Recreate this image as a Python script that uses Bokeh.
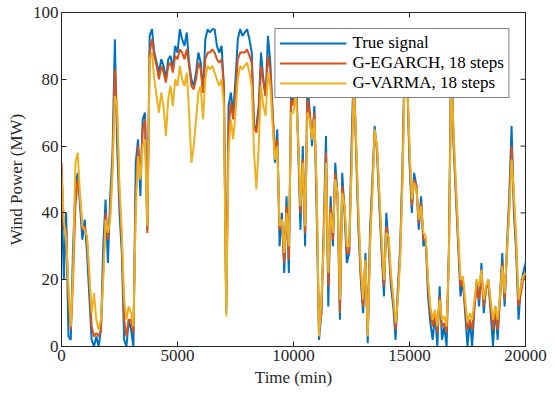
from bokeh.plotting import figure
from bokeh.models import Range1d, FixedTicker, Legend, LegendItem
from bokeh.embed import file_html
from bokeh.resources import INLINE

# time axis (min), one sample every 100 min
time_min = list(range(0, 20001, 100))

true_signal = [
    48, 20, 40, 3, 2, 30, 48, 52, 42, 32, 38, 28, 15, 2, 0, 3, 0, 5, 30, 44,
    25, 45, 58, 92, 60, 40, 28, 2, 0, 8, 5, 0, 55, 62, 45, 68, 70, 35, 93, 95,
    88, 85, 82, 86, 84, 80, 86, 87, 83, 90, 88, 95, 92, 90, 94, 85, 80, 78, 82, 88,
    85, 76, 92, 95, 94, 95, 95, 90, 88, 90, 78, 10, 72, 76, 70, 80, 92, 95, 93, 94,
    95, 92, 88, 65, 66, 72, 88, 80, 75, 93, 85, 70, 55, 65, 30, 40, 22, 45, 22, 80,
    72, 85, 60, 35, 60, 30, 80, 70, 60, 72, 40, 2, 10, 35, 63, 12, 45, 30, 55, 45,
    8, 52, 40, 25, 28, 60, 85, 58, 35, 20, 10, 28, 1, 35, 50, 66, 58, 42, 28, 15,
    40, 30, 18, 12, 2, 18, 30, 55, 90, 80, 55, 40, 52, 48, 35, 45, 30, 32, 15, 7,
    2, 10, 0, 18, 2, 6, 0, 30, 92, 60, 45, 30, 15, 20, 10, 0, 8, 0, 12, 20,
    12, 25, 10, 18, 20, 10, 0, 12, 2, 15, 28, 12, 30, 45, 66, 40, 28, 8, 18, 22,
    25,
]

egarch_18 = [
    55, 35, 35, 15, 5, 20, 42, 50, 45, 35, 36, 32, 20, 6, 3, 4, 3, 5, 22, 40,
    32, 40, 55, 83, 68, 45, 32, 8, 3, 8, 8, 4, 45, 60, 50, 65, 68, 34, 88, 92,
    87, 84, 80, 84, 82, 79, 84, 85, 82, 87, 86, 89, 88, 86, 89, 84, 78, 77, 80, 85,
    83, 76, 86, 88, 88, 89, 88, 86, 85, 86, 78, 12, 65, 73, 68, 76, 86, 88, 88, 88,
    89, 87, 85, 66, 64, 70, 84, 79, 75, 87, 83, 70, 58, 62, 35, 38, 25, 42, 26, 74,
    72, 80, 62, 40, 56, 34, 74, 70, 62, 70, 45, 5, 10, 32, 58, 18, 42, 32, 52, 45,
    10, 48, 42, 28, 28, 55, 80, 60, 38, 22, 12, 26, 4, 32, 48, 64, 60, 45, 30, 18,
    36, 32, 20, 14, 5, 15, 28, 52, 86, 80, 58, 42, 50, 48, 37, 43, 32, 32, 18, 10,
    6, 10, 4, 15, 6, 7, 4, 28, 86, 62, 47, 32, 18, 20, 12, 5, 8, 5, 12, 18,
    14, 22, 12, 17, 19, 12, 5, 11, 5, 14, 25, 14, 28, 42, 60, 44, 30, 12, 16, 20,
    22,
]

varma_18 = [
    52, 38, 32, 18, 6, 22, 55, 58, 45, 36, 35, 33, 22, 10, 16, 8, 5, 8, 20, 38,
    34, 38, 52, 75, 72, 48, 34, 14, 8, 12, 10, 6, 40, 57, 50, 60, 62, 36, 86, 88,
    80, 75, 70, 76, 72, 63, 74, 78, 72, 80, 78, 84, 80, 78, 82, 70, 55, 60, 68, 76,
    78, 68, 80, 84, 83, 84, 82, 80, 78, 80, 72, 9, 58, 68, 62, 70, 80, 84, 83, 84,
    85, 82, 78, 58, 47, 60, 78, 72, 69, 82, 78, 66, 56, 60, 36, 38, 28, 40, 30, 70,
    70, 76, 62, 42, 55, 36, 70, 68, 62, 68, 48, 3, 14, 30, 55, 22, 40, 34, 50, 46,
    14, 46, 42, 30, 30, 52, 78, 62, 40, 24, 14, 26, 3, 30, 46, 65, 60, 46, 32, 20,
    34, 33, 22, 15, 7, 14, 27, 50, 84, 80, 60, 44, 49, 47, 38, 42, 34, 33, 20, 12,
    8, 11, 6, 14, 8, 9, 6, 26, 82, 64, 49, 34, 20, 21, 14, 7, 10, 8, 14, 20,
    18, 23, 14, 18, 20, 14, 8, 12, 8, 15, 24, 16, 28, 40, 56, 46, 32, 14, 18, 21,
    22,
]

x_ticks = [0, 5000, 10000, 15000, 20000]
y_ticks = [0, 20, 40, 60, 80, 100]
x_lim = (0, 20000)
y_lim = (0, 100)
series_names = ["True signal", "G-EGARCH, 18 steps", "G-VARMA, 18 steps"]
series_colors = ["#0072BD", "#D95319", "#EDB120"]

FONT = "Liberation Serif"
FS = "17px"
AX_COLOR = "#262626"

p = figure(
    frame_width=464, frame_height=334,
    x_range=Range1d(*x_lim), y_range=Range1d(*y_lim),
    output_backend="svg", toolbar_location=None,
    min_border_left=61, min_border_right=30, min_border_top=12, min_border_bottom=48,
)
p.grid.visible = False
p.outline_line_color = AX_COLOR
p.outline_line_width = 1
p.background_fill_color = "white"
p.border_fill_color = "white"

for ax, ticks in ((p.xaxis[0], x_ticks), (p.yaxis[0], y_ticks)):
    ax.ticker = FixedTicker(ticks=ticks)
    ax.major_tick_in = 5
    ax.major_tick_out = 0
    ax.minor_tick_line_color = None
    ax.axis_line_color = AX_COLOR
    ax.major_tick_line_color = AX_COLOR
    ax.major_label_text_font = FONT
    ax.major_label_text_font_size = FS
    ax.major_label_text_color = AX_COLOR
    ax.major_label_standoff = 3
    ax.axis_label_text_font = FONT
    ax.axis_label_text_font_size = FS
    ax.axis_label_text_font_style = "normal"
    ax.axis_label_text_color = AX_COLOR
    ax.axis_label_standoff = 4
p.xaxis.axis_label = "Time (min)"
p.yaxis.axis_label = "Wind Power (MW)"

# inward ticks on the top and right edges of the box (5 px long)
x_span = x_lim[1] - x_lim[0]
y_span = y_lim[1] - y_lim[0]
tick_dy = 5 * y_span / 334
tick_dx = 5 * x_span / 464
p.segment(x0=x_ticks, x1=x_ticks, y0=[y_lim[1]] * len(x_ticks),
          y1=[y_lim[1] - tick_dy] * len(x_ticks), line_color=AX_COLOR, line_width=1)
p.segment(x0=[x_lim[1]] * len(y_ticks), x1=[x_lim[1] - tick_dx] * len(y_ticks),
          y0=y_ticks, y1=y_ticks, line_color=AX_COLOR, line_width=1)

renderers = []
for ys, c in zip([true_signal, egarch_18, varma_18], series_colors):
    r = p.line(time_min, ys, line_color=c, line_width=2)
    renderers.append(r)

legend = Legend(
    items=[LegendItem(label=n, renderers=[r]) for n, r in zip(series_names, renderers)],
    location="top_right",
    margin=16,
    padding=4,
    spacing=0,
    glyph_width=67,
    glyph_height=18,
    label_height=18,
    label_standoff=6,
    label_text_font=FONT,
    label_text_font_size=FS,
    label_text_color="black",
    border_line_color="black",
    border_line_width=1.5,
    background_fill_color="white",
    background_fill_alpha=1.0,
)
p.add_layout(legend)

open("out.html", "w").write(file_html(p, INLINE))
